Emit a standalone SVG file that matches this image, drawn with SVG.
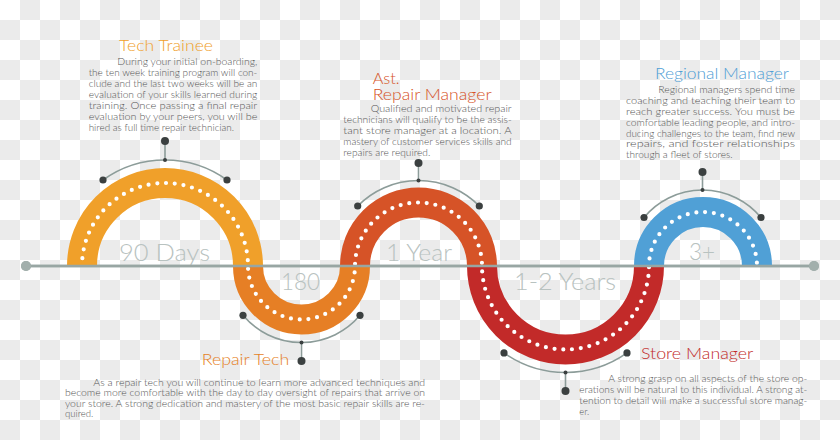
<svg xmlns="http://www.w3.org/2000/svg" width="840" height="440" viewBox="0 0 840 440">
<defs>
<pattern id="cb" width="40" height="40" patternUnits="userSpaceOnUse">
<rect width="40" height="40" fill="#ffffff"/>
<rect x="20" y="0" width="20" height="20" fill="#ebebeb"/>
<rect x="0" y="20" width="20" height="20" fill="#ebebeb"/>
</pattern>
</defs>
<style>
.band{fill:none;stroke-width:30;stroke-linecap:butt}
.dots{fill:none;stroke:#ffffff;stroke-width:4.2;stroke-linecap:round;stroke-dasharray:0 8.8}
.garc{fill:none;stroke:#8c9c99;stroke-width:1.6}
.stick{stroke:#8c9c99;stroke-width:1.6}
.ed{fill:#3b4040}
.sd{fill:#3b4040}
.axis{stroke:#98a6a3;stroke-width:2.6}
.axdot{fill:#a2afac}
.lbl{font-family:Lato,"Open Sans","DejaVu Sans",sans-serif;font-weight:300;font-size:23px;fill:#b8c2c0}
.ttl{font-family:Lato,"Open Sans","DejaVu Sans",sans-serif;font-weight:300;font-size:15px}
.p{font-family:Lato,"Open Sans","DejaVu Sans",sans-serif;font-weight:300;font-size:9.3px;fill:#555555}
</style>
<rect width="840" height="440" fill="url(#cb)"/>

<g id="connectors">
<line class="axis" x1="26" y1="266" x2="814" y2="266"/>
<circle class="axdot" cx="26" cy="266" r="5"/>
<circle class="axdot" cx="814" cy="266" r="5"/>
</g>

<g id="tech-trainee">
<path class="band" stroke="#f0a02a" d="M82,266 A83,83 0 0 1 248,266"/>
<path class="garc" d="M103,180 A106,106 0 0 1 227,180"/>
<circle class="ed" cx="103" cy="180" r="3.6"/>
<circle class="ed" cx="227" cy="180" r="3.6"/>
<line class="stick" x1="165" y1="160" x2="165" y2="141"/>
<circle class="sd" cx="165" cy="160" r="2"/>
<circle class="ed" cx="165" cy="141" r="4"/>
<text class="ttl" fill="#f0a02a" x="119" y="50.7" textLength="94" lengthAdjust="spacingAndGlyphs">Tech Trainee</text>
<text class="p"><tspan x="117.3" y="64.7" textLength="140" lengthAdjust="spacingAndGlyphs">During your initial on-boarding,</tspan><tspan x="88.7" y="75.7" textLength="168.6" lengthAdjust="spacingAndGlyphs">the ten week training program will con-</tspan><tspan x="88.7" y="86.7" textLength="168.6" lengthAdjust="spacingAndGlyphs">clude and the last two weeks will be an</tspan><tspan x="88.7" y="97.7" textLength="168.6" lengthAdjust="spacingAndGlyphs">evaluation of your skills learned during</tspan><tspan x="88.7" y="108.7" textLength="168.6" lengthAdjust="spacingAndGlyphs">training. Once passing a final repair</tspan><tspan x="88.7" y="119.7" textLength="168.6" lengthAdjust="spacingAndGlyphs">evaluation by your peers, you will be</tspan><tspan x="88.7" y="130.7" textLength="145.3" lengthAdjust="spacingAndGlyphs">hired as full time repair technician.</tspan></text>
<text class="lbl" x="119" y="261" textLength="91" lengthAdjust="spacingAndGlyphs">90 Days</text>
</g>

<g id="repair-tech">
<path class="band" stroke="#e67f25" d="M248,266 A53.5,53.5 0 0 0 355,266"/>
<path class="garc" d="M243,315.3 A76.5,76.5 0 0 0 360,315.3"/>
<circle class="ed" cx="243" cy="315.3" r="3.6"/>
<circle class="ed" cx="360" cy="315.3" r="3.6"/>
<line class="stick" x1="301.5" y1="342.5" x2="301.5" y2="361"/>
<circle class="sd" cx="301.5" cy="342.5" r="2"/>
<circle class="ed" cx="301.5" cy="361" r="4"/>
<text class="ttl" fill="#e67f25" x="201.7" y="365" textLength="87.6" lengthAdjust="spacingAndGlyphs">Repair Tech</text>
<text class="p"><tspan x="93.3" y="385.7" textLength="331.7" lengthAdjust="spacingAndGlyphs">As a repair tech you will continue to learn more advanced techniques and</tspan><tspan x="65" y="396.2" textLength="360" lengthAdjust="spacingAndGlyphs">become more comfortable with the day to day oversight of repairs that arrive on</tspan><tspan x="65" y="406.7" textLength="360" lengthAdjust="spacingAndGlyphs">your store. A strong dedication and mastery of the most basic repair skills are re-</tspan><tspan x="65" y="417.3" textLength="28.3" lengthAdjust="spacingAndGlyphs">quired.</tspan></text>
<text class="lbl" x="281" y="290" textLength="39" lengthAdjust="spacingAndGlyphs">180</text>
</g>

<g id="ast-repair-manager">
<path class="band" stroke="#d65327" d="M355,266 A63.5,63.5 0 0 1 482,266"/>
<path class="garc" d="M357.7,206 A85.4,85.4 0 0 1 479.3,206"/>
<circle class="ed" cx="357.7" cy="206" r="3.6"/>
<circle class="ed" cx="479.3" cy="206" r="3.6"/>
<line class="stick" x1="418.5" y1="180.6" x2="418.5" y2="163"/>
<circle class="sd" cx="418.5" cy="180.6" r="2"/>
<circle class="ed" cx="418.5" cy="163" r="4"/>
<text class="ttl" fill="#d65327" x="372.7" y="84.3" textLength="27" lengthAdjust="spacingAndGlyphs">Ast.</text>
<text class="ttl" fill="#d65327" x="372.7" y="99.8" textLength="119" lengthAdjust="spacingAndGlyphs">Repair Manager</text>
<text class="p"><tspan x="370.7" y="111.7" textLength="141" lengthAdjust="spacingAndGlyphs">Qualified and motivated repair</tspan><tspan x="343.3" y="122.7" textLength="168.4" lengthAdjust="spacingAndGlyphs">technicians will qualify to be the assis-</tspan><tspan x="343.3" y="133.7" textLength="168.4" lengthAdjust="spacingAndGlyphs">tant store manager at a location. A</tspan><tspan x="343.3" y="144.7" textLength="168.4" lengthAdjust="spacingAndGlyphs">mastery of customer services skills and</tspan><tspan x="343.3" y="155.7" textLength="87" lengthAdjust="spacingAndGlyphs">repairs are required.</tspan></text>
<text class="lbl" x="386" y="261" textLength="66" lengthAdjust="spacingAndGlyphs">1 Year</text>
</g>

<g id="store-manager">
<path class="band" stroke="#c22a29" d="M482,266 A83.5,83.5 0 0 0 649,266"/>
<path class="garc" d="M504,352.9 A106.5,106.5 0 0 0 627,352.9"/>
<circle class="ed" cx="504" cy="352.9" r="3.6"/>
<circle class="ed" cx="627" cy="352.9" r="3.6"/>
<line class="stick" x1="565.5" y1="372.5" x2="565.5" y2="391"/>
<circle class="sd" cx="565.5" cy="372.5" r="2"/>
<circle class="ed" cx="565.5" cy="391" r="4"/>
<text class="ttl" fill="#c22a29" x="641" y="359.3" textLength="112.3" lengthAdjust="spacingAndGlyphs">Store Manager</text>
<text class="p"><tspan x="608.3" y="382.3" textLength="199" lengthAdjust="spacingAndGlyphs">A strong grasp on all aspects of the store op-</tspan><tspan x="579.3" y="393.3" textLength="228" lengthAdjust="spacingAndGlyphs">erations will be natural to this individual. A strong at-</tspan><tspan x="579.3" y="404" textLength="228" lengthAdjust="spacingAndGlyphs">tention to detail will make a successful store manag-</tspan><tspan x="579.3" y="414.5" textLength="10" lengthAdjust="spacingAndGlyphs">er.</tspan></text>
<text class="lbl" x="514" y="290" textLength="102" lengthAdjust="spacingAndGlyphs">1-2 Years</text>
</g>

<g id="regional-manager">
<path class="band" stroke="#50a0d6" d="M649,266 A54,54 0 0 1 757,266"/>
<path class="garc" d="M644,217.5 A76,76 0 0 1 761,217.5"/>
<circle class="ed" cx="644" cy="217.5" r="3.6"/>
<circle class="ed" cx="761" cy="217.5" r="3.6"/>
<line class="stick" x1="702.5" y1="190" x2="702.5" y2="172"/>
<circle class="sd" cx="702.5" cy="190" r="2"/>
<circle class="ed" cx="702.5" cy="172" r="4"/>
<text class="ttl" fill="#50a0d6" x="655" y="79" textLength="134" lengthAdjust="spacingAndGlyphs">Regional Manager</text>
<text class="p"><tspan x="658.3" y="93.3" textLength="136.7" lengthAdjust="spacingAndGlyphs">Regional managers spend time</tspan><tspan x="626" y="104.3" textLength="169" lengthAdjust="spacingAndGlyphs">coaching and teaching their team to</tspan><tspan x="626" y="115" textLength="169" lengthAdjust="spacingAndGlyphs">reach greater success. You must be</tspan><tspan x="626" y="125.7" textLength="169" lengthAdjust="spacingAndGlyphs">comfortable leading people, and intro-</tspan><tspan x="626" y="136.7" textLength="169" lengthAdjust="spacingAndGlyphs">ducing challenges to the team, find new</tspan><tspan x="626" y="147.3" textLength="169" lengthAdjust="spacingAndGlyphs">repairs, and foster relationships</tspan><tspan x="626" y="158.3" textLength="106.7" lengthAdjust="spacingAndGlyphs">through a fleet of stores.</tspan></text>
<text class="lbl" x="689" y="260" textLength="26" lengthAdjust="spacingAndGlyphs">3+</text>
</g>

<g id="track-dots">
<path class="dots" stroke-dashoffset="0.8" d="M82,266 A83,83 0 0 1 248,266 A53.5,53.5 0 0 0 355,266 A63.5,63.5 0 0 1 482,266 A83.5,83.5 0 0 0 649,266 A54,54 0 0 1 757,266"/>
</g>

<g id="axis-overlay">
<line class="axis" x1="26" y1="266" x2="814" y2="266"/>
<circle class="axdot" cx="26" cy="266" r="5"/>
<circle class="axdot" cx="814" cy="266" r="5"/>
</g>
</svg>
